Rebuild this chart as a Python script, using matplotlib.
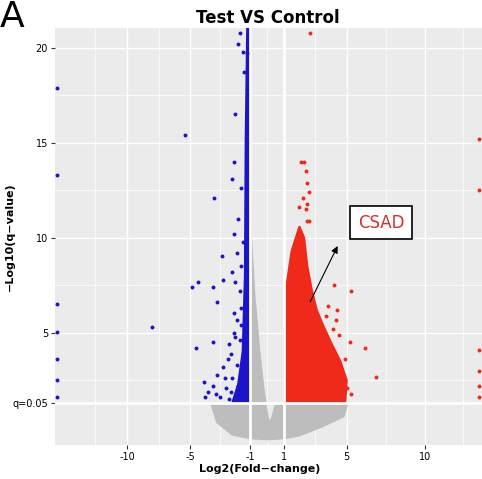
import numpy as np
import matplotlib.pyplot as plt
from matplotlib.patches import Polygon

# dense clouds (outlines, log2FC, -log10 q)
grey_x = [-1.0, -0.95, -0.75, -0.45, -0.2, 0.05, 0.15, 0.3, 0.55, 1.0, 2.0, 3.5, 5.0, 4.8, 3.5, 2.0, 1.0, 0.0, -1.0, -2.2, -3.2, -3.6, -1.0]
grey_y = [13.5, 10.0, 7.0, 4.0, 2.0, 0.5, 0.3, 0.5, 1.3, 1.3, 1.3, 1.3, 1.2, 0.6, 0.1, -0.4, -0.55, -0.6, -0.55, -0.35, 0.3, 1.3, 1.3]
red_x = [1.05, 1.05, 1.2, 1.5, 2.0, 2.3, 2.5, 2.8, 3.1, 3.5, 4.0, 4.6, 5.0, 4.9]
red_y = [1.3, 5.0, 7.6, 9.3, 10.6, 10.0, 8.5, 7.2, 6.2, 5.4, 4.5, 3.5, 2.5, 1.3]
blue_x = [-1.0, -1.0, -1.2, -1.3, -1.35, -1.5, -1.8, -2.2]
blue_y = [1.3, 21.0, 21.0, 15.0, 8.0, 4.0, 2.3, 1.3]

# scattered genes
down_fc = [-5.4, -2.0, -3.4, -2.1, -2.2, -2.9, -4.9, -4.5, -3.5, -2.8, -3.2, -4.6, -3.5, -2.1, -1.9,
           -2.0, -2.1, -2.1, -4.1, -4.0, -3.5, -3.2, -2.8, -2.5, -2.3, -2.3, -3.0, -1.8, -1.6, -1.5,
           -1.6, -1.7, -1.6, -1.8, -1.7, -1.8, -1.5, -1.4, -1.2, -8.0,
           -2.6, -2.4, -2.7, -3.3, -3.8, -2.2, -1.9, -2.4, -2.0, -1.7, -1.6, -1.9, -2.2, -1.5, -1.6,
           -15.5, -15.5, -15.5, -15.5, -15.5, -15.5, -15.5]
down_q = [15.4, 16.5, 12.1, 14.0, 13.1, 9.05, 7.4, 7.7, 7.4, 7.8, 6.6, 4.2, 4.5, 10.2, 9.2,
          7.7, 6.05, 5.0, 2.4, 1.6, 2.2, 2.8, 3.2, 3.6, 3.9, 1.9, 1.6, 2.2, 2.9, 3.9,
          5.4, 7.2, 8.5, 11.0, 20.8, 20.2, 19.8, 18.7, 19.7, 5.3,
          2.1, 1.5, 2.6, 1.8, 1.9, 2.6, 3.3, 4.4, 4.8, 4.6, 6.3, 5.7, 8.2, 9.8, 12.6,
          17.9, 13.3, 6.5, 5.05, 3.6, 2.5, 1.6]
up_fc = [2.1, 2.3, 2.4, 2.5, 2.6, 2.2, 2.5, 2.4, 2.0, 2.5, 2.6, 4.2, 5.3, 3.8, 3.7, 4.4, 4.3,
         4.1, 4.5, 5.2, 6.2, 6.9, 4.9, 5.0, 5.3, 3.9, 4.2, 2.7,
         13.5, 13.5, 13.5, 13.5, 13.5, 13.5]
up_q = [14.0, 14.0, 13.5, 12.9, 12.4, 12.1, 11.8, 11.5, 11.6, 10.9, 10.9, 7.5, 7.2, 6.4, 5.9, 6.2, 5.7,
        5.2, 4.9, 4.5, 4.2, 2.7, 3.6, 2.1, 1.8, 3.9, 3.2, 20.8,
        15.2, 12.5, 4.1, 3.0, 2.2, 1.6]

xt_vals = [-10, -5, -1, 1, 5, 10]
yt_vals = [-np.log10(0.05), 5, 10, 15, 20]
yt_labels = ["q=0.05", "5", "10", "15", "20"]

# the reference axis is not linear: anchor values vs. screen position
anchor_v = [-16, -10, -5, -1, 1, 5, 10, 14]
anchor_p = [48, 125, 189, 250, 284, 348, 427, 490]
fwd = lambda v: np.interp(v, anchor_v, anchor_p)
inv = lambda p: np.interp(p, anchor_p, anchor_v)

fig = plt.figure(figsize=(4.82, 4.79), dpi=100)
ax = fig.add_axes([0.114, 0.071, 0.886, 0.871])
ax.set_facecolor("#ebebeb")
ax.set_xscale("function", functions=(fwd, inv))
ax.set_xlim(-15.7, 13.7)
ax.set_ylim(-0.9, 21.05)

for v in [-12.5, -7.5, -3, 0, 3, 7.5, 12.5]:
    ax.axvline(v, color="white", lw=0.5, zorder=0)
for v in [2.5, 7.5, 12.5, 17.5]:
    ax.axhline(v, color="white", lw=0.5, zorder=0)
for v in xt_vals:
    ax.axvline(v, color="white", lw=1.0 if abs(v) > 1 else 2.0, zorder=0 if abs(v) > 1 else 3)
for v in yt_vals:
    ax.axhline(v, color="white", lw=1.0 if v > 2 else 2.0, zorder=0 if v > 2 else 3)

ax.add_patch(Polygon(list(zip(grey_x, grey_y)), closed=True, fc="#bdbdbd", ec="#bdbdbd", lw=1.5, zorder=1))
ax.add_patch(Polygon(list(zip(red_x, red_y)), closed=True, fc="#f02a1a", ec="#f02a1a", lw=1.5, zorder=2))
ax.add_patch(Polygon(list(zip(blue_x, blue_y)), closed=True, fc="#1c14c8", ec="#1c14c8", lw=1.5, zorder=2))
ax.scatter(down_fc, down_q, s=8, color="#1c14c8", lw=0, zorder=4, clip_on=True)
ax.scatter(up_fc, up_q, s=8, color="#f02a1a", lw=0, zorder=4, clip_on=True)

ax.annotate("", xy=(4.5, 9.7), xytext=(2.6, 6.5),
            arrowprops=dict(arrowstyle="-|>", color="black", lw=0.8), zorder=6)
ax.text(7.2, 10.8, "CSAD", color="#d03030", fontsize=12, ha="center", va="center", zorder=6,
        bbox=dict(boxstyle="square,pad=0.45", fc="white", ec="black", lw=1.2))

ax.set_xticks(xt_vals)
ax.set_xticklabels([str(v) for v in xt_vals])
ax.set_yticks(yt_vals)
ax.set_yticklabels(yt_labels)
ax.tick_params(labelsize=7, length=3, pad=2, color="#333333")
for s in ax.spines.values():
    s.set_visible(False)
ax.set_xlabel("Log2(Fold\u2212change)", fontsize=8, fontweight="bold")
ax.xaxis.set_label_coords(0.48, -0.045)
ax.set_ylabel("\u2212Log10(q\u2212value)", fontsize=8, fontweight="bold")
ax.yaxis.set_label_coords(-0.095, 0.5)
fig.text(0.556, 0.962, "Test VS Control", fontsize=12, fontweight="bold", ha="center", va="center")
fig.text(0.0, 0.965, "A", fontsize=26, ha="left", va="center")

fig.savefig("out.png", dpi=100)
